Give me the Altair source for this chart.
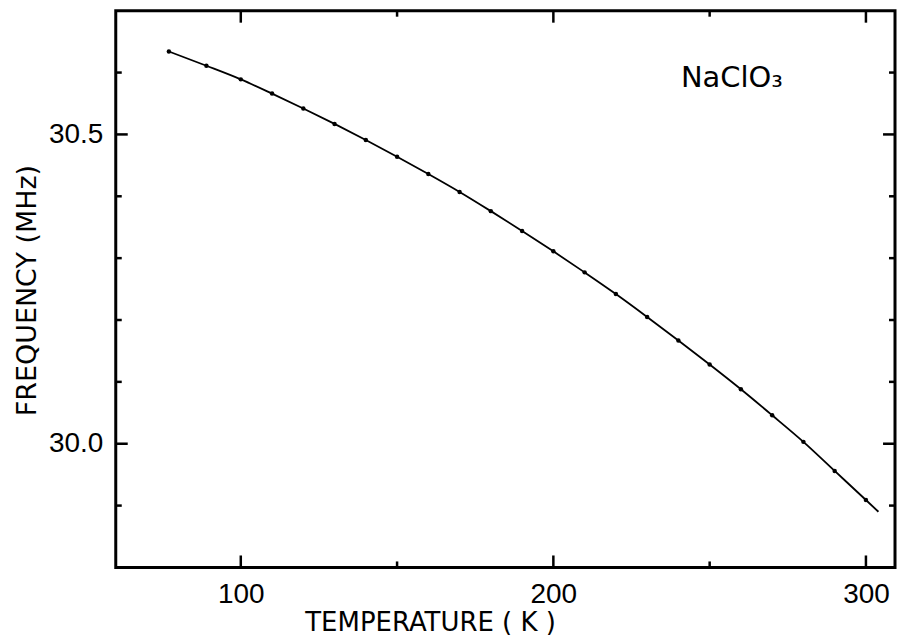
import altair as alt
import pandas as pd

# measured points (temperature in K, frequency in MHz)
temps = [77, 89, 100, 110, 120, 130, 140, 150, 160, 170, 180, 190, 200,
         210, 220, 230, 240, 250, 260, 270, 280, 290, 300]
freqs = [30.634, 30.611, 30.589, 30.566, 30.542, 30.517, 30.491, 30.464,
         30.436, 30.407, 30.376, 30.344, 30.311, 30.277, 30.242, 30.205,
         30.167, 30.128, 30.088, 30.046, 30.003, 29.956, 29.909]
# smooth curve drawn through the points, continuing slightly past the last one
curve_T = temps + [304]
curve_f = freqs + [29.890]

x_major = [100, 200, 300]
x_minor = [150, 250]
y_major = [30.0, 30.5]
y_minor = [29.9, 30.1, 30.2, 30.3, 30.4, 30.6]

ann_text = ["NaClO\u2083"]
ann_T = [240.8]
ann_f = [30.577]

W, H = 781, 558
xs = alt.Scale(domain=[60, 309.3], nice=False, zero=False)
ys = alt.Scale(domain=[29.8, 30.7], nice=False, zero=False)

x_axis = alt.Axis(values=x_major, format="d", ticks=False, domain=False,
                  grid=False, labelFont="Liberation Sans", labelFontSize=28,
                  labelColor="black", labelPadding=35, labelBaseline="alphabetic",
                  labelFlush=False, labelOverlap=False,
                  title="TEMPERATURE ( K )", titleFont="DejaVu Sans", titleFontSize=26,
                  titleFontWeight="normal", titleColor="black", titleX=315, titleY=63,
                  titleBaseline="alphabetic", titleAlign="center")
y_axis = alt.Axis(values=y_major, format=".1f", ticks=False, domain=False,
                  grid=False, labelFont="Liberation Sans", labelFontSize=28,
                  labelColor="black", labelPadding=13, labelFlush=False, labelOverlap=False,
                  title="FREQUENCY (MHz)", titleFont="DejaVu Sans", titleFontSize=27,
                  titleFontWeight="normal", titleColor="black", titleAngle=270,
                  titleX=-80, titleY=280, titleBaseline="alphabetic", titleAlign="center")

pts_df = pd.DataFrame({"T": temps, "f": freqs})
curve_df = pd.DataFrame({"T": curve_T, "f": curve_f})

line = alt.Chart(curve_df).mark_line(color="black", strokeWidth=1.8, interpolate="monotone").encode(
    x=alt.X("T:Q", scale=xs, axis=x_axis),
    y=alt.Y("f:Q", scale=ys, axis=y_axis),
)
pts = alt.Chart(pts_df).mark_circle(color="black", size=20, opacity=1).encode(
    x=alt.X("T:Q", scale=xs, axis=x_axis),
    y=alt.Y("f:Q", scale=ys, axis=y_axis),
)

def xticks(vals, length, bottom=True):
    y0 = H if bottom else 0
    y1 = H - length if bottom else length
    return alt.Chart(pd.DataFrame({"T": vals})).mark_rule(color="black", strokeWidth=2.5).encode(
        x=alt.X("T:Q", scale=xs, axis=x_axis), y=alt.value(y0), y2=alt.value(y1))

def yticks(vals, length, left=True):
    x0 = 0 if left else W
    x1 = length if left else W - length
    return alt.Chart(pd.DataFrame({"f": vals})).mark_rule(color="black", strokeWidth=2.5).encode(
        y=alt.Y("f:Q", scale=ys, axis=y_axis), x=alt.value(x0), x2=alt.value(x1))

ann = alt.Chart(pd.DataFrame({"T": ann_T, "f": ann_f, "label": ann_text})).mark_text(
    font="DejaVu Sans", fontSize=29, align="left", baseline="alphabetic", color="black").encode(
    x=alt.X("T:Q", scale=xs, axis=x_axis),
    y=alt.Y("f:Q", scale=ys, axis=y_axis),
    text="label:N",
)

chart = alt.layer(
    line, pts,
    xticks(x_major, 12, True), xticks(x_minor, 6, True),
    xticks(x_major, 12, False), xticks(x_minor, 6, False),
    yticks(y_major, 12, True), yticks(y_minor, 6, True),
    yticks(y_major, 12, False), yticks(y_minor, 6, False),
    ann,
).properties(
    width=W, height=H,
    autosize=alt.AutoSizeParams(type="none"),
    padding={"left": 108, "top": 2, "right": 2, "bottom": 68},
).configure_view(stroke="black", strokeWidth=3)

chart.save("out.html", embed_options={"renderer": "svg", "actions": False})
